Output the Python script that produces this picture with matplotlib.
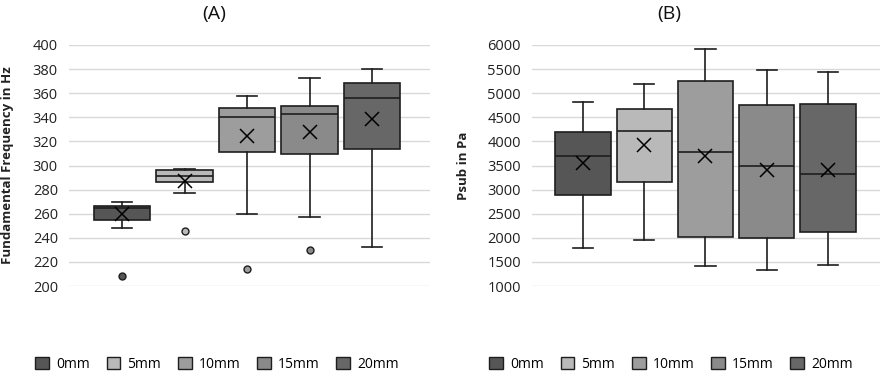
import matplotlib
matplotlib.use("Agg")
import matplotlib.pyplot as plt
from matplotlib.patches import Patch

plt.rcParams['font.family'] = ['Open Sans', 'DejaVu Sans']

categories = ["0mm", "5mm", "10mm", "15mm", "20mm"]
colors = ["#565656", "#b9b9b9", "#9d9d9d", "#8a8a8a", "#676767"]

# Panel A: fundamental frequency (Hz)
f0_whislo = [248, 277, 260, 257, 232]
f0_q1 = [254.5, 286, 311, 309.5, 314]
f0_med = [264.5, 291, 340, 342.5, 356]
f0_q3 = [266.5, 296, 348, 349.5, 368.5]
f0_whishi = [270, 297.5, 357.5, 373, 380]
f0_mean = [259.5, 287.5, 324.5, 328, 338.5]
f0_fliers = [[208.5], [246], [214], [230], []]

# Panel B: subglottal pressure (Pa)
ps_whislo = [1790, 1950, 1410, 1340, 1445]
ps_q1 = [2880, 3165, 2025, 2000, 2115]
ps_med = [3690, 4210, 3790, 3500, 3325]
ps_q3 = [4200, 4670, 5260, 4760, 4780]
ps_whishi = [4820, 5200, 5915, 5480, 5440]
ps_mean = [3545, 3920, 3700, 3410, 3400]
ps_fliers = [[], [], [], [], []]

edge = "#1e1e1e"


def make_stats(lo, q1, med, q3, hi, mean, fl):
    out = []
    for i in range(len(lo)):
        out.append(dict(whislo=lo[i], q1=q1[i], med=med[i], q3=q3[i],
                        whishi=hi[i], mean=mean[i], fliers=fl[i]))
    return out


def draw(ax, stats, ylim, yticks, ylabel, xlim, width):
    for i, s in enumerate(stats):
        ax.bxp([s], positions=[i], widths=width, showmeans=True,
               patch_artist=True, capwidths=0.33,
               boxprops=dict(facecolor=colors[i], edgecolor=edge, linewidth=1.2),
               medianprops=dict(color=edge, linewidth=1.2),
               whiskerprops=dict(color=edge, linewidth=1.2),
               capprops=dict(color=edge, linewidth=1.2),
               meanprops=dict(marker='x', markeredgecolor='black', markersize=10,
                              markeredgewidth=1.1),
               flierprops=dict(marker='o', markerfacecolor=colors[i],
                               markeredgecolor=edge, markersize=5,
                               markeredgewidth=1.0))
    ax.set_xlim(*xlim)
    ax.set_ylim(*ylim)
    ax.set_yticks(yticks)
    ax.set_xticks([])
    ax.yaxis.grid(True, color="#d9d9d9", linewidth=1.0)
    ax.set_axisbelow(True)
    for sp in ax.spines.values():
        sp.set_visible(False)
    ax.tick_params(axis='y', length=0, labelsize=10.5, colors="#222222", pad=8)
    ax.set_ylabel(ylabel, fontsize=9.5, fontweight='bold', color="#222222")


fig = plt.figure(figsize=(8.86, 3.73), dpi=100)
axA = fig.add_axes([69/886, 1-286/373, 361/886, 241/373])
axB = fig.add_axes([532/886, 1-286/373, 348/886, 241/373])

draw(axA, make_stats(f0_whislo, f0_q1, f0_med, f0_q3, f0_whishi, f0_mean, f0_fliers),
     (200, 400), list(range(200, 401, 20)), "Fundamental Frequency in Hz",
     (-0.848, 4.928), 0.91)
draw(axB, make_stats(ps_whislo, ps_q1, ps_med, ps_q3, ps_whishi, ps_mean, ps_fliers),
     (1000, 6000), list(range(1000, 6001, 500)), "Psub in Pa",
     (-0.833, 4.85), 0.9)

axA.yaxis.set_label_coords(-0.152, 0.5)
axB.yaxis.set_label_coords(-0.178, 0.5)

fig.text(214/886, 1-14/373, "(A)", ha='center', va='center', fontsize=14, color="#111111")
fig.text(669/886, 1-14/373, "(B)", ha='center', va='center', fontsize=14, color="#111111")

handles = [Patch(facecolor=c, edgecolor=edge, linewidth=1.0, label=l)
           for c, l in zip(colors, categories)]
for cx in (217/886, 671/886):
    fig.legend(handles=handles, loc='center', bbox_to_anchor=(cx, 1-364/373),
               ncol=5, frameon=False, fontsize=10, handlelength=1.0,
               handleheight=1.0, handletextpad=0.5, columnspacing=1.2,
               borderaxespad=0)

fig.savefig("out.png", dpi=100)
